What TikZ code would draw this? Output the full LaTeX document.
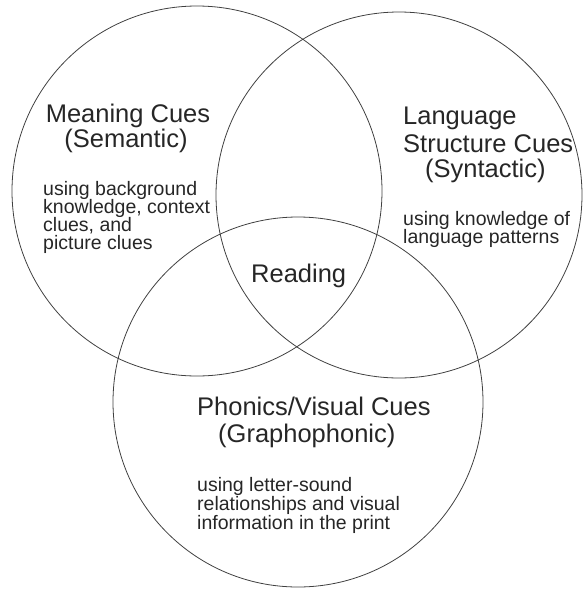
\documentclass[tikz,border=0pt]{standalone}
\usepackage{fontspec}
\setmainfont{Liberation Sans}
\begin{document}
\begin{tikzpicture}[x=1pt,y=-1pt,
  ring/.style={draw=black!75,line width=0.8pt},
  bigtext/.style={inner sep=0pt,text=black!85,font=\fontsize{25.5}{26}\selectfont},
  smalltext/.style={inner sep=0pt,text=black!85,font=\fontsize{19.5}{19}\selectfont}]
\useasboundingbox (0,0) rectangle (582,590);
\coordinate (cA) at (197,191);
\coordinate (cB) at (399,195);
\coordinate (cC) at (298,402);
\draw[ring] (cA) circle[radius=185];
\draw[ring] (cB) circle[radius=183];
\draw[ring] (cC) circle[radius=185];
% Semantic
\node[bigtext,anchor=base] (a1) at (128,122) {Meaning Cues};
\node[bigtext,anchor=base] (a2) at (126,147) {(Semantic)};
\node[smalltext,anchor=base west] (a3) at (43,195) {using background};
\node[smalltext,anchor=base west] (a4) at (43,213) {knowledge, context};
\node[smalltext,anchor=base west] (a5) at (43,231) {clues, and};
\node[smalltext,anchor=base west] (a6) at (43,249) {picture clues};
% Syntactic
\node[bigtext,anchor=base west] (b1) at (403,124) {Language};
\node[bigtext,anchor=base west] (b2) at (403,152) {Structure Cues};
\node[bigtext,anchor=base west] (b3) at (425,177) {(Syntactic)};
\node[smalltext,anchor=base west] (b4) at (403,225) {using knowledge of};
\node[smalltext,anchor=base west] (b5) at (403,243) {language patterns};
% Center
\node[bigtext,anchor=base west] (r) at (251,282) {Reading};
% Graphophonic
\node[bigtext,anchor=base west] (c1) at (197,415) {Phonics/Visual Cues};
\node[bigtext,anchor=base west] (c2) at (218,442) {(Graphophonic)};
\node[smalltext,anchor=base west] (c3) at (197,491) {using letter-sound};
\node[smalltext,anchor=base west] (c4) at (197,510) {relationships and visual};
\node[smalltext,anchor=base west] (c5) at (197,529) {information in the print};
\end{tikzpicture}
\end{document}
